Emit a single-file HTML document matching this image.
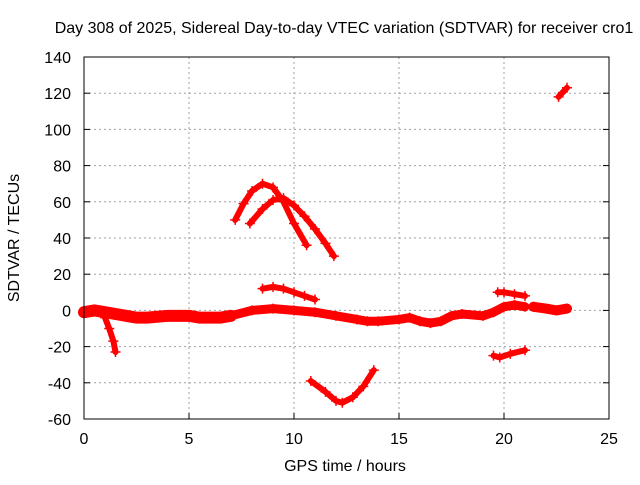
<!DOCTYPE html>
<html><head><meta charset="utf-8"><style>
body{margin:0;background:#fff;}
text{font-family:"Liberation Sans",sans-serif;font-size:16px;fill:#000;}
</style></head><body>
<svg id="c" width="640" height="480" viewBox="0 0 640 480">
<text x="344" y="33" text-anchor="middle">Day 308 of 2025, Sidereal Day-to-day VTEC variation (SDTVAR) for receiver cro1</text>
<text x="345" y="471" text-anchor="middle">GPS time / hours</text>
<text transform="translate(19,238) rotate(-90)" text-anchor="middle">SDTVAR / TECUs</text>
<g id="grid"></g><g id="marks"></g>
<rect x="84" y="57" width="525" height="362" fill="none" stroke="#000" stroke-width="1"/>
</svg>
<script>
const xTicks=[0,5,10,15,20,25];
const yTicks=[-60,-40,-20,0,20,40,60,80,100,120,140];
const earlyBand=[[0,-1],[0.5,0],[1,-1],[1.5,-2],[2,-3],[2.5,-4],[3,-4],[4,-3],[5,-3],[5.5,-4],[6,-4],[6.5,-4],[7,-3]];
const mainBand=[[7,-3],[8,0],[9,1],[10,0],[11,-1],[12,-3],[13,-5],[13.5,-6],[14,-6],[15,-5],[15.5,-4],[16,-6],[16.5,-7],[17,-6],[17.5,-3],[18,-2],[19,-3],[19.5,-1],[20,2],[20.5,3],[21,2]];
const lateBand=[[21.4,2],[22,1],[22.5,0],[23,1]];
const dip=[[1.0,-4],[1.2,-10],[1.4,-17],[1.5,-23]];
const arc1=[[7.2,50],[7.6,59],[8,66],[8.5,70],[9,68],[9.5,60],[10,48],[10.6,36]];
const arc2=[[7.9,48],[8.5,56],[9,61],[9.5,62],[10,58],[10.5,52],[11,45],[11.5,37],[11.9,30]];
const hump=[[8.5,12],[9,13],[9.5,12],[10,10],[10.5,8],[11,6]];
const vee=[[10.8,-39],[11.5,-45],[12,-50],[12.3,-51],[12.8,-48],[13.3,-42],[13.8,-33]];
const rightUpper=[[19.7,10],[20,10],[20.5,9],[21,8]];
const rightLower=[[19.5,-25],[19.8,-26],[20.3,-24],[21,-22]];
const topSeg=[[22.6,118],[23,123]];
const X=h=>84+h*21, Y=v=>419-(v+60)*1.81;
const NS="http://www.w3.org/2000/svg";
const g=document.getElementById('grid'), m=document.getElementById('marks');
function mk(t,a,p){const e=document.createElementNS(NS,t);for(const k in a)e.setAttribute(k,a[k]);p.appendChild(e);return e;}
xTicks.forEach(t=>{
 if(t>0&&t<25){const l=mk('line',{x1:X(t),x2:X(t),y1:57,y2:419,stroke:'#a0a0a0','stroke-dasharray':'2,3'},g);
 
 }
 const tk=mk('line',{x1:X(t),x2:X(t),y1:419,y2:413,stroke:'#000'},g);
 
 
 const tx=mk('text',{x:X(t),y:444,'text-anchor':'middle'},g);tx.textContent=t;
 
 
});
yTicks.forEach(t=>{
 if(t>-60&&t<140){const l=mk('line',{x1:84,x2:609,y1:Y(t),y2:Y(t),stroke:'#a0a0a0','stroke-dasharray':'2,3'},g);
 
 }
 mk('line',{x1:84,x2:90,y1:Y(t),y2:Y(t),stroke:'#000'},g);
 mk('line',{x1:603,x2:609,y1:Y(t),y2:Y(t),stroke:'#000'},g);
 const tx=mk('text',{x:71,y:Y(t)+6,'text-anchor':'end'},g);tx.textContent=t;
 
 
});
function series(d,w,name){
 const p=mk('polyline',{points:d.map(q=>X(q[0])+','+Y(q[1])).join(' '),fill:'none',stroke:'#f00','stroke-width':w,'stroke-linejoin':'round','stroke-linecap':'round'},m);
 
 
 d.forEach(q=>{const x=X(q[0]),y=Y(q[1]);
  mk('path',{d:`M${x-5},${y}h10M${x},${y-5}v10`,stroke:'#f00','stroke-width':1.5},m);});
}
series(earlyBand,12,'series-early-band');
series(mainBand,9,'series-main-band');
series(lateBand,10,'series-late-band');
series(dip,6,'series-early-dip');
series(arc1,6,'series-arc-1');
series(arc2,6,'series-arc-2');
series(hump,6,'series-hump');
series(vee,6,'series-vee');
series(rightUpper,6,'series-right-upper');
series(rightLower,6,'series-right-lower');
series(topSeg,6,'series-top-segment');
</script>
</body></html>
